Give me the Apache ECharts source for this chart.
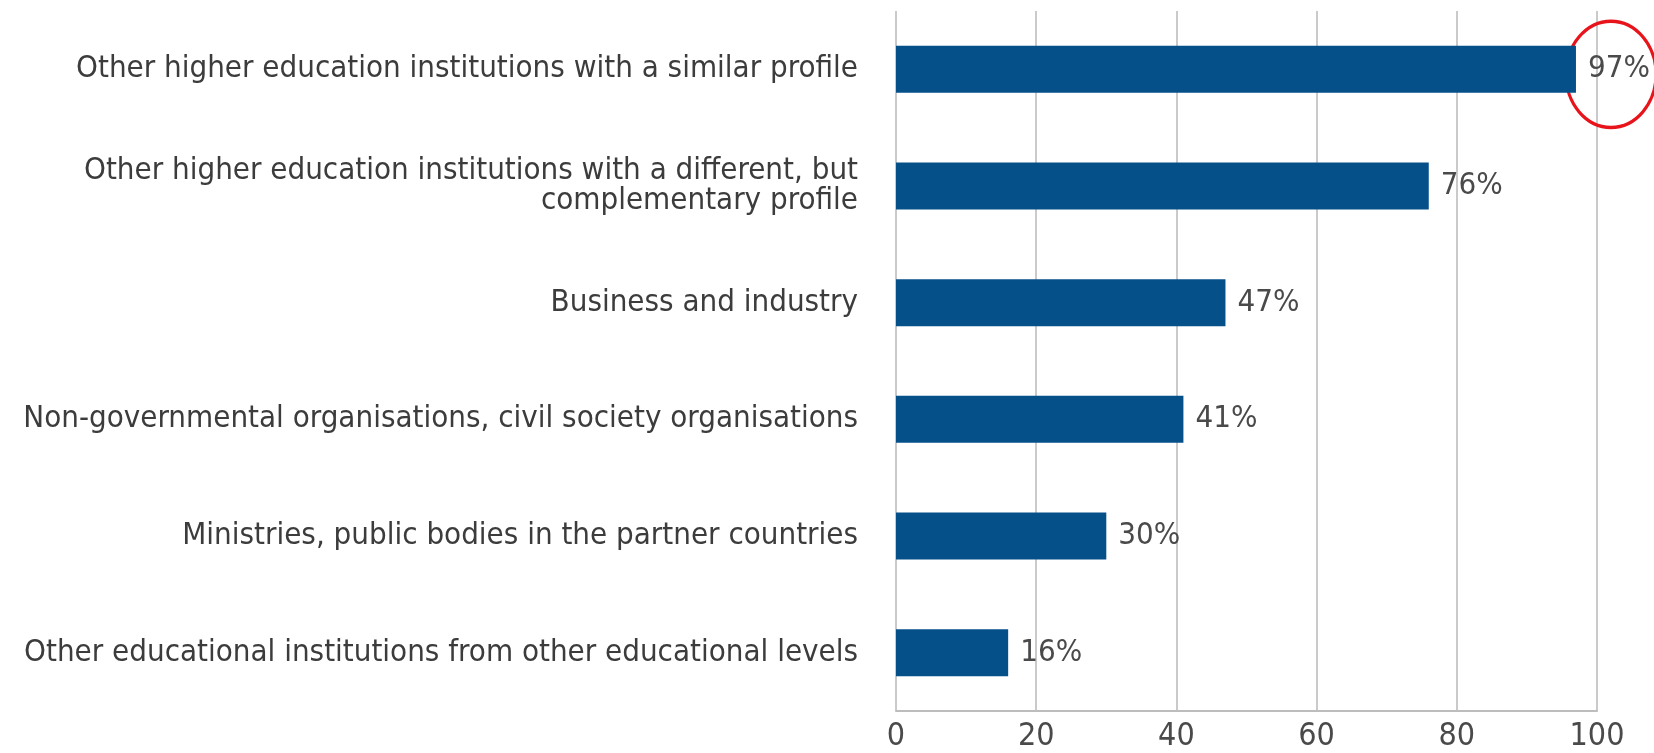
<!DOCTYPE html>
<html>
<head>
<meta charset="utf-8">
<script src="https://cdn.jsdelivr.net/npm/echarts@6/dist/echarts.min.js"></script>
<style>
html,body{margin:0;padding:0;background:#fff;}
#chart{width:1654px;height:753px;}
</style>
</head>
<body>
<div id="chart"></div>
<script>
var categories = [
  "Other higher education institutions with a similar profile",
  "Other higher education institutions with a different, but\ncomplementary profile",
  "Business and industry",
  "Non-governmental organisations, civil society organisations",
  "Ministries, public bodies in the partner countries",
  "Other educational institutions from other educational levels"
];
var values = [97, 76, 47, 41, 30, 16];
var xTicks = [0, 20, 40, 60, 80, 100];
var highlightIndex = 0;

var FONT = '"Liberation Sans Narrow", "DejaVu Sans Condensed", sans-serif';
var chart = echarts.init(document.getElementById('chart'), null, {renderer: 'canvas'});
chart.setOption({
  animation: false,
  grid: {left: 896, right: 57, top: 11, bottom: 42, containLabel: false},
  xAxis: {
    type: 'value', min: xTicks[0], max: xTicks[xTicks.length - 1], interval: xTicks[1] - xTicks[0],
    axisLine: {show: true, lineStyle: {color: '#bdbdbd', width: 2}},
    axisTick: {show: false},
    splitLine: {show: true, lineStyle: {color: '#cacaca', width: 2}},
    axisLabel: {fontFamily: FONT, fontSize: 32, color: '#4a4a4a', margin: 10}
  },
  yAxis: {
    type: 'category', inverse: true, data: categories,
    axisLine: {show: false}, axisTick: {show: false},
    axisLabel: {fontFamily: FONT, fontSize: 31, color: '#3c3c3c', margin: 38, lineHeight: 30, align: 'right',
      padding: [0, 0, 8, 0]}
  },
  series: [{
    type: 'bar', data: values, barWidth: 47,
    itemStyle: {color: '#06508a'},
    label: {show: true, position: 'right', distance: 12, formatter: '{c}%',
      fontFamily: FONT, fontSize: 31, color: '#4a4a4a'}
  }]
});
var p = chart.convertToPixel({seriesIndex: 0}, [values[highlightIndex], highlightIndex]);
chart.setOption({
  graphic: [{
    type: 'circle', x: p[0] + 35, y: p[1] + 5, scaleX: 1, scaleY: 1.18,
    shape: {cx: 0, cy: 0, r: 45},
    style: {fill: 'none', stroke: '#e8141c', lineWidth: 3}
  }]
});
</script>
</body>
</html>
